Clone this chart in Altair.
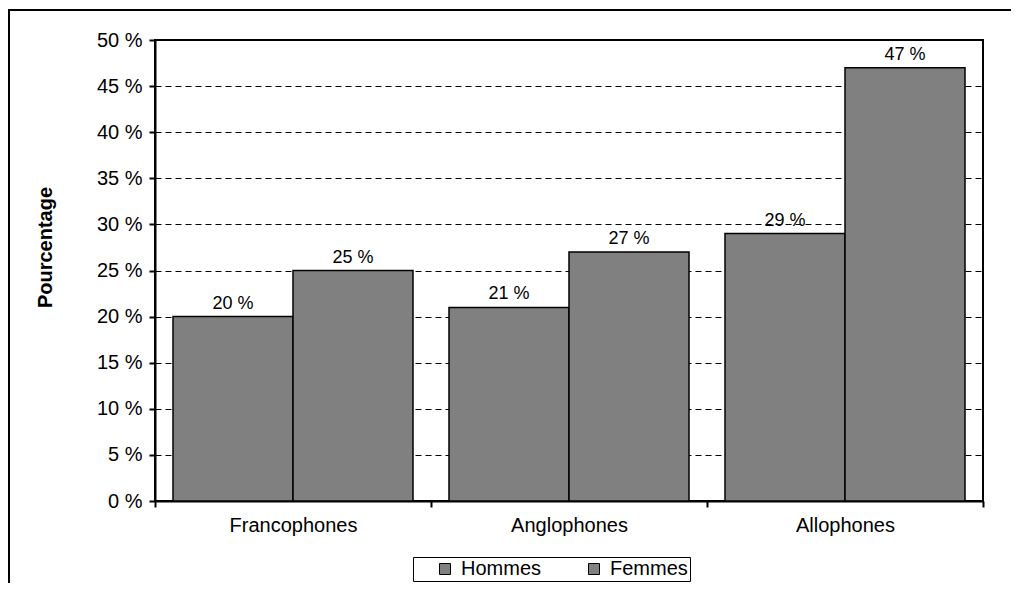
import altair as alt
import pandas as pd

categories = ["Francophones", "Anglophones", "Allophones"]
series = ["Hommes", "Femmes"]
hommes = [20, 21, 29]
femmes = [25, 27, 47]
y_ticks = [0, 5, 10, 15, 20, 25, 30, 35, 40, 45, 50]

rows = []
for i, c in enumerate(categories):
    rows.append({"cat": c, "sexe": series[0], "val": hommes[i]})
    rows.append({"cat": c, "sexe": series[1], "val": femmes[i]})
df = pd.DataFrame(rows)
df["lab"] = df["val"].astype(str) + " %"

FONT = "Liberation Sans"
W, H = 828, 461

x_enc = alt.X(
    "cat:N", sort=categories,
    scale=alt.Scale(paddingInner=0, paddingOuter=0),
    axis=alt.Axis(title=None, labelFontSize=20, labelFont=FONT, labelColor="black",
                  labelPadding=8, labelAngle=0, tickSize=6, tickBand="extent",
                  tickColor="black", tickWidth=2, domainColor="black", domainWidth=2,
                  grid=False),
)
xo_enc = alt.XOffset("sexe:N", sort=series,
                     scale=alt.Scale(paddingOuter=0.15, paddingInner=0))
y_enc = alt.Y(
    "val:Q",
    scale=alt.Scale(domain=[0, 50], nice=False),
    axis=alt.Axis(values=y_ticks, labelExpr="datum.value + ' %'",
                  title="Pourcentage", titleFontSize=20, titleFont=FONT,
                  titleFontWeight="bold", titleColor="black",
                  titleX=-110, titleY=207, titleAngle=-90,
                  titleAlign="center", titleBaseline="middle",
                  labelFontSize=20, labelFont=FONT, labelColor="black",
                  labelPadding=7, tickSize=6, tickColor="black", tickWidth=2,
                  domainColor="black", domainWidth=2,
                  grid=True, gridColor="black", gridDash=[6, 4],
                  gridWidth=1, gridOpacity=1),
)

bars = alt.Chart(df).mark_bar(stroke="black", strokeWidth=1.5, opacity=1).encode(
    x=x_enc, xOffset=xo_enc, y=y_enc,
    color=alt.Color("sexe:N", sort=series,
                    scale=alt.Scale(domain=series, range=["#808080", "#808080"]),
                    legend=alt.Legend(orient="none", legendX=258, legendY=517,
                                      direction="horizontal", title=None,
                                      strokeColor="black", fillColor="white",
                                      padding=2, labelFontSize=20, labelFont=FONT,
                                      labelColor="black", columnPadding=22,
                                      labelOffset=6, symbolOffset=20,
                                      symbolType="square", symbolSize=121,
                                      symbolStrokeColor="black",
                                      symbolStrokeWidth=1)),
)

labels = alt.Chart(df).mark_text(dy=-8, baseline="alphabetic", fontSize=18,
                                 font=FONT, color="black").encode(
    x=x_enc, xOffset=xo_enc, y=y_enc, text="lab:N"
)

frame_df = pd.DataFrame({"k": [0]})
frame_v = alt.Chart(frame_df).mark_rule(color="black", strokeWidth=2).encode(
    x=alt.value(-146), y=alt.value(-30), y2=alt.value(700))
frame_h = alt.Chart(frame_df).mark_rule(color="black", strokeWidth=2).encode(
    x=alt.value(-147), x2=alt.value(2000), y=alt.value(-30))

chart = alt.layer(bars, labels, frame_v, frame_h).properties(
    width=W, height=H,
    autosize=alt.AutoSizeParams(type="none"),
    padding={"left": 147, "top": 32, "right": 28, "bottom": 82},
    background="white",
).configure_view(stroke="black", strokeWidth=2)

chart.save("out.html", embed_options={"renderer": "svg", "actions": False})
